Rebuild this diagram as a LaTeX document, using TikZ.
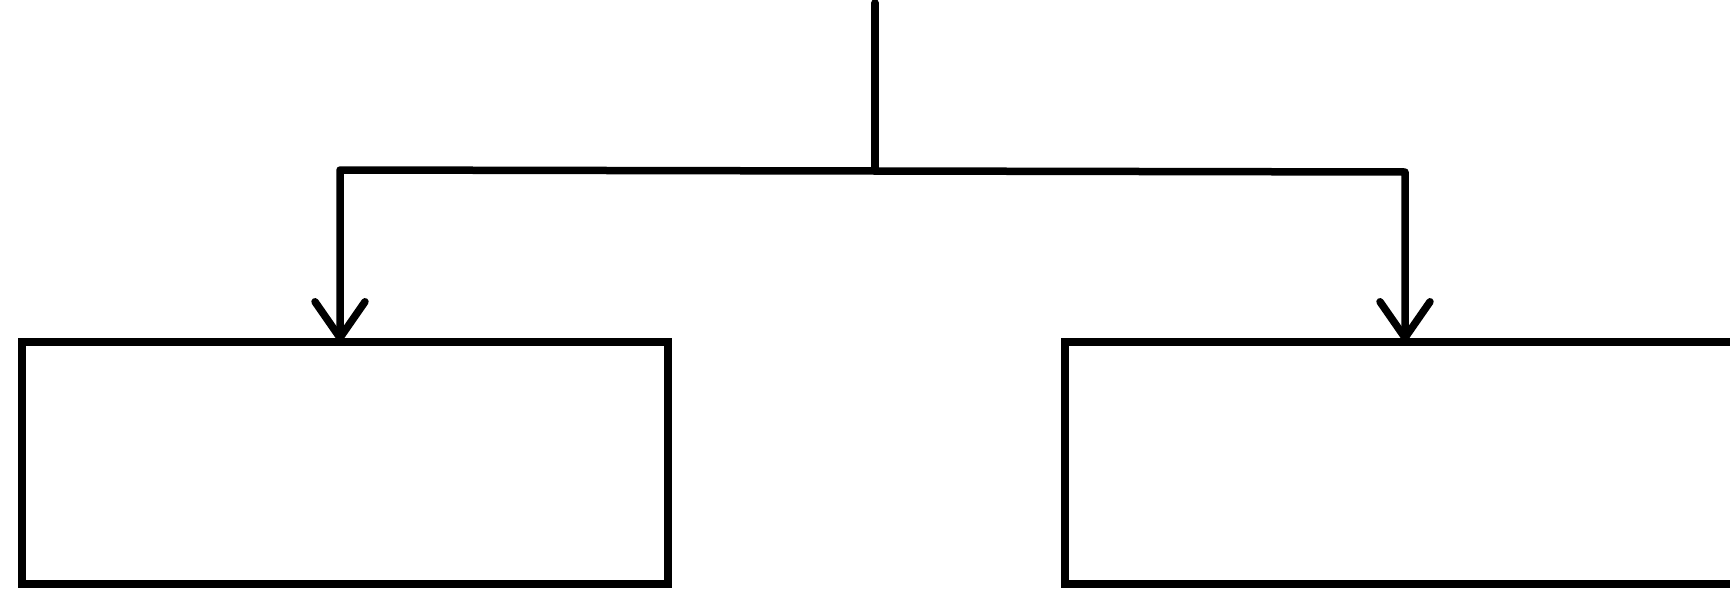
\documentclass[tikz,border=0pt]{standalone}
\usetikzlibrary{arrows.meta}
\tikzset{
  boxnode/.style={draw=black, line width=8pt, minimum width=#1, minimum height=242pt, inner sep=0pt, outer sep=0pt},
  connline/.style={draw=black, line width=7.5pt, line join=round, line cap=round},
  arrowline/.style={connline, -{Straight Barb[length=36pt,width=50pt,line width=7.5pt,round]}}
}
\begin{document}
\begin{tikzpicture}[x=1pt,y=-1pt]
\useasboundingbox (0,0) rectangle (1730,597);
\clip (0,0) rectangle (1730,597);
\node[boxnode=646pt] (L) at (345,462.5) {};
\node[boxnode=700pt] (R) at (1415,462.5) {};
\coordinate (top) at (875,3);
\coordinate (j) at (875,171);
\coordinate (la) at (340,170);
\coordinate (ra) at (1405,172);
\draw[connline] (top) -- (j);
\draw[arrowline] (j) -- (la) -- (la |- L.north);
\draw[arrowline] (j) -- (ra) -- (ra |- R.north);
\end{tikzpicture}
\end{document}
